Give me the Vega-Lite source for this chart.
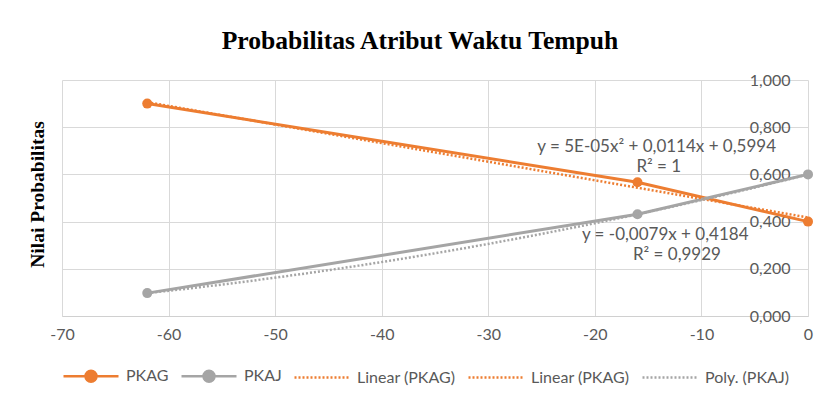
{
  "$schema": "https://vega.github.io/schema/vega-lite/v6.json",
  "width": 746,
  "height": 236,
  "autosize": {"type": "none"},
  "padding": {"left": 62, "top": 80, "right": 15, "bottom": 83},
  "background": "white",
  "config": {"view": {"stroke": null}, "font": "Lato"},
  "title": {
    "text": "Probabilitas Atribut Waktu Tempuh",
    "font": "Liberation Serif",
    "fontSize": 25.6,
    "fontWeight": "bold",
    "color": "#000000",
    "anchor": "middle",
    "frame": "group",
    "offset": 17,
    "dx": -15
  },
  "data": {
    "values": [
      {"series": "PKAG", "x": -62, "y": 0.9},
      {"series": "PKAG", "x": -16, "y": 0.567},
      {"series": "PKAG", "x": 0, "y": 0.4},
      {"series": "PKAJ", "x": -62, "y": 0.097},
      {"series": "PKAJ", "x": -16, "y": 0.431},
      {"series": "PKAJ", "x": 0, "y": 0.6}
    ]
  },
  "layer": [
    {
      "mark": {"type": "line", "strokeWidth": 3, "point": {"filled": true, "size": 100, "opacity": 1}},
      "encoding": {
        "x": {
          "field": "x",
          "type": "quantitative",
          "scale": {"domain": [-70, 0], "nice": false},
          "axis": {
            "values": [-70, -60, -50, -40, -30, -20, -10, 0],
            "title": null,
            "grid": true,
            "gridColor": "#d9d9d9",
            "domainColor": "#d0d0d0",
            "ticks": false,
            "tickSize": 0,
            "labelPadding": 10,
            "labelFont": "Lato",
            "labelFontSize": 16,
            "labelColor": "#595959",
            "labelFlush": false,
            "labelExpr": "'' + datum.value"
          }
        },
        "y": {
          "field": "y",
          "type": "quantitative",
          "scale": {"domain": [0, 1], "nice": false},
          "axis": {
            "values": [0, 0.2, 0.4, 0.6, 0.8, 1],
            "orient": "left",
            "title": "Nilai Probabilitas",
            "titleFont": "Liberation Serif",
            "titleFontWeight": "bold",
            "titleFontSize": 19.5,
            "titleColor": "#000000",
            "titleX": -25,
            "titleY": 114,
            "titleAngle": -90,
            "titleAlign": "center",
            "titleBaseline": "middle",
            "grid": true,
            "gridColor": "#d9d9d9",
            "domain": false,
            "ticks": false,
            "tickSize": 0,
            "labelAlign": "right",
            "labelBaseline": "middle",
            "labelPadding": -728,
            "labelFlush": false,
            "labelFont": "Lato",
            "labelFontSize": 16,
            "labelColor": "#595959",
            "labelExpr": "replace(format(datum.value, '.3f'), '.', ',')"
          }
        },
        "color": {
          "field": "series",
          "type": "nominal",
          "scale": {
            "domain": ["PKAG", "PKAJ", "Linear (PKAG)", "Linear (PKAG) ", "Poly. (PKAJ)"],
            "range": ["#ED7D31", "#A5A5A5", "#ED7D31", "#ED7D31", "#A5A5A5"]
          },
          "legend": {
            "orient": "bottom",
            "direction": "horizontal",
            "title": null,
            "offset": 5,
            "symbolType": "M-1,0H1",
            "symbolSize": 3025,
            "symbolStrokeWidth": 2.5,
            "labelFont": "Lato",
            "labelFontSize": 16,
            "labelColor": "#595959",
            "labelOffset": 6,
            "columnPadding": 7,
            "encode": {
              "symbols": {
                "update": {
                  "shape": {"signal": "indexof(datum.value, 'PKA') == 0 ? 'M-1,0H-0.2M0.2,0H1M0.2,0A0.2,0.2 0 1 1 -0.2,0A0.2,0.2 0 1 1 0.2,0' : 'M-1,0H1'"},
                  "strokeDash": {"signal": "indexof(datum.value, 'PKA') == 0 ? [] : [2, 2]"},
                  "fill": {"signal": "indexof(datum.value, 'PKA') == 0 ? scale('color', datum.value) : 'transparent'"},
                  "stroke": {"signal": "scale('color', datum.value)"},
                  "opacity": {"value": 1}
                }
              }
            }
          }
        }
      }
    },
    {
      "transform": [
        {"filter": "datum.series === 'PKAG'"},
        {"regression": "y", "on": "x"}
      ],
      "mark": {"type": "line", "strokeDash": [2, 2], "strokeWidth": 2.5},
      "encoding": {
        "x": {"field": "x", "type": "quantitative"},
        "y": {"field": "y", "type": "quantitative"},
        "color": {"datum": "Linear (PKAG)", "type": "nominal"}
      }
    },
    {
      "transform": [
        {"filter": "datum.series === 'PKAJ'"},
        {"regression": "y", "on": "x", "method": "poly", "order": 2}
      ],
      "mark": {"type": "line", "strokeDash": [2, 2], "strokeWidth": 2.5},
      "encoding": {
        "x": {"field": "x", "type": "quantitative"},
        "y": {"field": "y", "type": "quantitative"},
        "color": {"datum": "Poly. (PKAJ)", "type": "nominal"}
      }
    },
    {
      "data": {"values": [{"label": "y = 5E-05x² + 0,0114x + 0,5994"}]},
      "mark": {"type": "text", "font": "Lato", "fontSize": 17, "color": "#595959"},
      "encoding": {
        "x": {"datum": -14.2, "type": "quantitative"},
        "y": {"datum": 0.718, "type": "quantitative"},
        "text": {"field": "label"}
      }
    },
    {
      "data": {"values": [{"label": "R² = 1"}]},
      "mark": {"type": "text", "font": "Lato", "fontSize": 17, "color": "#595959"},
      "encoding": {
        "x": {"datum": -14.0, "type": "quantitative"},
        "y": {"datum": 0.63, "type": "quantitative"},
        "text": {"field": "label"}
      }
    },
    {
      "data": {"values": [{"label": "y = -0,0079x + 0,4184"}]},
      "mark": {"type": "text", "font": "Lato", "fontSize": 17, "color": "#595959"},
      "encoding": {
        "x": {"datum": -13.4, "type": "quantitative"},
        "y": {"datum": 0.345, "type": "quantitative"},
        "text": {"field": "label"}
      }
    },
    {
      "data": {"values": [{"label": "R² = 0,9929"}]},
      "mark": {"type": "text", "font": "Lato", "fontSize": 17, "color": "#595959"},
      "encoding": {
        "x": {"datum": -12.3, "type": "quantitative"},
        "y": {"datum": 0.258, "type": "quantitative"},
        "text": {"field": "label"}
      }
    }
  ]
}
